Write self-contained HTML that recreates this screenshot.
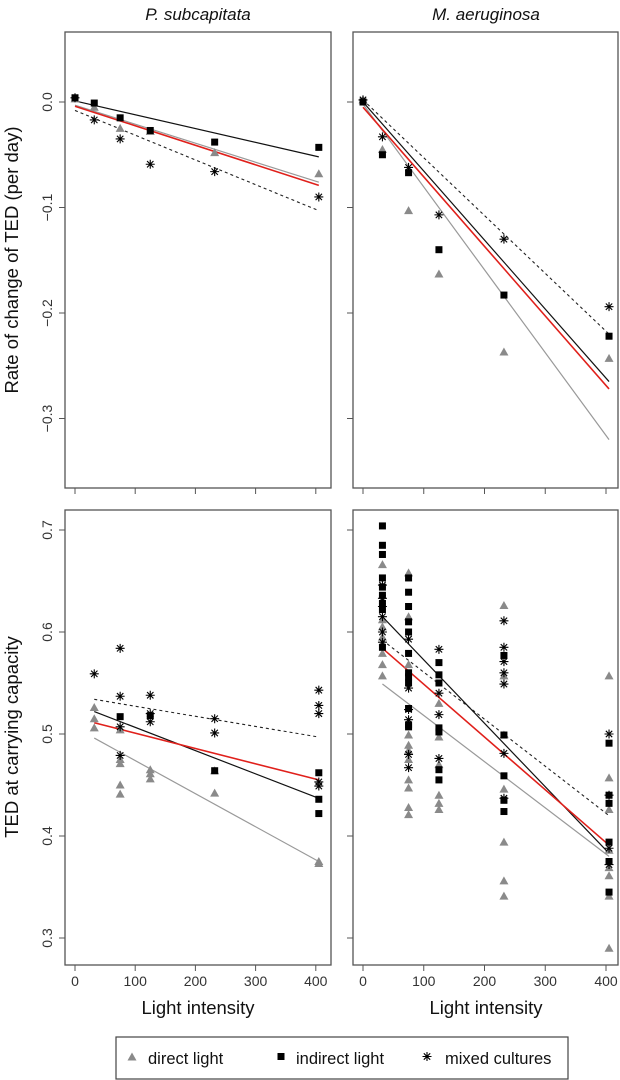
<!DOCTYPE html>
<html><head><meta charset="utf-8"><style>
body{margin:0;background:#fff}
svg{display:block;font-family:"Liberation Sans",Arial,sans-serif}
</style></head><body>
<svg id="c" width="620" height="1080" viewBox="0 0 620 1080"></svg>
<script>
// ---- data ----
const lightLevels = [0, 32, 75, 125, 232, 405];
// top-left: rate of change, P. subcapitata
const psRateDirect   = [0.003, -0.005, -0.025, -0.028, -0.048, -0.068];
const psRateIndirect = [0.004, -0.001, -0.015, -0.027, -0.038, -0.043];
const psRateMixed    = [0.004, -0.017, -0.035, -0.059, -0.066, -0.090];
// top-right: rate of change, M. aeruginosa
const maRateDirect   = [0.002, -0.045, -0.103, -0.163, -0.237, -0.243];
const maRateIndirect = [0.000, -0.050, -0.067, -0.140, -0.183, -0.222];
const maRateMixed    = [0.002, -0.033, -0.062, -0.107, -0.130, -0.194];
// fitted lines [x0,y0,x1,y1]
const psRateFits = {direct:[0,-0.003,405,-0.076], indirect:[0,0.001,405,-0.052], mixed:[0,-0.008,405,-0.103], all:[0,-0.004,405,-0.079]};
const maRateFits = {direct:[0,-0.002,405,-0.320], indirect:[0,0.000,405,-0.265], mixed:[0,0.002,405,-0.220], all:[0,-0.005,405,-0.272]};
// bottom-left: TED at K, P. subcapitata  [x, value]
const psTedDirect = [[32,0.526],[32,0.515],[32,0.506],[75,0.504],[75,0.475],[75,0.471],[75,0.450],[75,0.441],[125,0.465],[125,0.461],[125,0.456],[232,0.464],[232,0.442],[405,0.375],[405,0.373]];
const psTedIndirect = [[75,0.517],[125,0.518],[232,0.464],[405,0.462],[405,0.436],[405,0.422]];
const psTedMixed = [[32,0.559],[75,0.584],[75,0.537],[75,0.507],[75,0.479],[125,0.538],[125,0.520],[125,0.512],[232,0.515],[232,0.501],[405,0.543],[405,0.528],[405,0.520],[405,0.453],[405,0.449]];
const psTedFits = {direct:[32,0.496,405,0.375], indirect:[32,0.522,405,0.437], mixed:[32,0.534,405,0.497], all:[32,0.511,405,0.455]};
// bottom-right: TED at K, M. aeruginosa
const maTedDirect = [[32,0.666],[32,0.612],[32,0.605],[32,0.595],[32,0.579],[32,0.568],[32,0.557],[75,0.658],[75,0.615],[75,0.568],[75,0.499],[75,0.489],[75,0.484],[75,0.475],[75,0.455],[75,0.447],[75,0.428],[75,0.421],[125,0.530],[125,0.497],[125,0.470],[125,0.440],[125,0.432],[125,0.426],[232,0.626],[232,0.557],[232,0.499],[232,0.446],[232,0.394],[232,0.356],[232,0.341],[405,0.557],[405,0.457],[405,0.426],[405,0.386],[405,0.369],[405,0.361],[405,0.341],[405,0.290]];
const maTedIndirect = [[32,0.704],[32,0.685],[32,0.676],[32,0.653],[32,0.644],[32,0.636],[32,0.628],[32,0.622],[32,0.585],[75,0.653],[75,0.639],[75,0.625],[75,0.610],[75,0.600],[75,0.579],[75,0.560],[75,0.556],[75,0.550],[75,0.525],[75,0.507],[75,0.509],[125,0.570],[125,0.558],[125,0.550],[125,0.506],[125,0.502],[125,0.465],[125,0.455],[232,0.577],[232,0.499],[232,0.459],[232,0.435],[232,0.424],[405,0.491],[405,0.440],[405,0.432],[405,0.394],[405,0.375],[405,0.345]];
const maTedMixed = [[32,0.646],[32,0.633],[32,0.625],[32,0.615],[32,0.600],[32,0.590],[75,0.593],[75,0.545],[75,0.524],[75,0.514],[75,0.480],[75,0.467],[125,0.583],[125,0.540],[125,0.519],[125,0.476],[232,0.611],[232,0.585],[232,0.571],[232,0.560],[232,0.549],[232,0.481],[232,0.437],[405,0.500],[405,0.440],[405,0.388],[405,0.372]];
const maTedFits = {direct:[32,0.549,405,0.380], indirect:[32,0.615,405,0.383], mixed:[32,0.592,405,0.420], all:[32,0.584,405,0.391]};
const xTicks = [0,100,200,300,400];
const rateTicks = [0.0,-0.1,-0.2,-0.3];
const rateTickLabels = ["0.0","\u22120.1","\u22120.2","\u22120.3"];
const tedTicks = [0.3,0.4,0.5,0.6,0.7];
const tedTickLabels = ["0.3","0.4","0.5","0.6","0.7"];

// ---- drawing ----
const NS="http://www.w3.org/2000/svg";
const svg=document.getElementById('c');
function mk(tag,attrs,parent){const e=document.createElementNS(NS,tag);for(const k in attrs)e.setAttribute(k,attrs[k]);(parent||svg).appendChild(e);return e;}

const panels=[
 {id:'rate-subcapitata',L:65,R:331,T:32,B:488,x0:75,xs:0.602,y:v=>102-v*1055,ticks:rateTicks,labels:rateTickLabels,showY:true,showX:false},
 {id:'rate-aeruginosa',L:353,R:618,T:32,B:488,x0:363,xs:0.6075,y:v=>102-v*1055,ticks:rateTicks,labels:rateTickLabels,showY:false,showX:false},
 {id:'ted-subcapitata',L:65,R:331,T:510,B:965,x0:75,xs:0.602,y:v=>530+(0.7-v)*1020,ticks:tedTicks,labels:tedTickLabels,showY:true,showX:true},
 {id:'ted-aeruginosa',L:353,R:618,T:510,B:965,x0:363,xs:0.6075,y:v=>530+(0.7-v)*1020,ticks:tedTicks,labels:tedTickLabels,showY:false,showX:true}
];
function xp(p,v){return p.x0+v*p.xs;}

function tri(g,x,y){const e=mk('path',{d:`M${x},${y-4.5}L${x+4.5},${y+3.5}L${x-4.5},${y+3.5}Z`,fill:'#8a8a8a'},g);

}
function sq(g,x,y){const e=mk('rect',{x:x-3.5,y:y-3.5,width:7,height:7,fill:'#000'},g);

}
function ast(g,x,y){const r=4.5,d=3.2;const e=mk('path',{d:`M${x-r},${y}H${x+r}M${x},${y-r}V${y+r}M${x-d},${y-d}L${x+d},${y+d}M${x-d},${y+d}L${x+d},${y-d}`,stroke:'#000','stroke-width':1.1,fill:'none'},g);

}

function fitLines(p,g,f){
 const st={direct:{stroke:'#999','stroke-width':1.2},indirect:{stroke:'#111','stroke-width':1.2},mixed:{stroke:'#222','stroke-width':1.1,'stroke-dasharray':'3,3'},all:{stroke:'#e0201b','stroke-width':1.6}};
 for(const k of ['direct','mixed','indirect','all']){const a=f[k];
  const e=mk('line',Object.assign({x1:xp(p,a[0]),y1:p.y(a[1]),x2:xp(p,a[2]),y2:p.y(a[3])},st[k]),g);
  
  }
}

panels.forEach((p,i)=>{
 const g=mk('g',{});
 
 
 const fr=mk('rect',{x:p.L,y:p.T,width:p.R-p.L,height:p.B-p.T,fill:'none',stroke:'#555','stroke-width':1.3},g);
 
 
 p.ticks.forEach((t,j)=>{const y=p.y(t);
  mk('line',{x1:p.L-6,y1:y,x2:p.L,y2:y,stroke:'#555','stroke-width':1},g);
  if(p.showY){const tx=mk('text',{x:52,y:y,transform:`rotate(-90 52 ${y})`,'text-anchor':'middle','font-size':14,fill:'#333'},g);
   tx.textContent=p.labels[j];
   
   }
 });
 xTicks.forEach(t=>{const x=xp(p,t);
  mk('line',{x1:x,y1:p.B,x2:x,y2:p.B+6,stroke:'#555','stroke-width':1},g);
  if(p.showX){const tx=mk('text',{x:x,y:986,'text-anchor':'middle','font-size':14,fill:'#333'},g);
   tx.textContent=String(t);
   
   }
 });
});

function drawSeries(p,d,idr,mx,f,isPairs){
 const g=mk('g',{});
 
 
 fitLines(p,g,f);
 if(isPairs){d.forEach(a=>tri(g,xp(p,a[0]),p.y(a[1])));idr.forEach(a=>sq(g,xp(p,a[0]),p.y(a[1])));mx.forEach(a=>ast(g,xp(p,a[0]),p.y(a[1])));}
 else{lightLevels.forEach((l,k)=>{tri(g,xp(p,l),p.y(d[k]));});lightLevels.forEach((l,k)=>{sq(g,xp(p,l),p.y(idr[k]));});lightLevels.forEach((l,k)=>{ast(g,xp(p,l),p.y(mx[k]));});}
}
drawSeries(panels[0],psRateDirect,psRateIndirect,psRateMixed,psRateFits,false);
drawSeries(panels[1],maRateDirect,maRateIndirect,maRateMixed,maRateFits,false);
drawSeries(panels[2],psTedDirect,psTedIndirect,psTedMixed,psTedFits,true);
drawSeries(panels[3],maTedDirect,maTedIndirect,maTedMixed,maTedFits,true);
</script>
<svg width="620" height="1080" style="position:absolute;left:0;top:0">
 <g font-family="Liberation Sans, Arial, sans-serif" fill="#111">
  <text x="198" y="20" font-size="17" font-style="italic" text-anchor="middle">P. subcapitata</text>
  <text x="486" y="20" font-size="17" font-style="italic" text-anchor="middle">M. aeruginosa</text>
  <text x="18" y="260" font-size="18.5" text-anchor="middle" transform="rotate(-90 18 260)">Rate of change of TED (per day)</text>
  <text x="18" y="737" font-size="18.5" text-anchor="middle" transform="rotate(-90 18 737)">TED at carrying capacity</text>
  <text x="198" y="1014" font-size="18.5" text-anchor="middle">Light intensity</text>
  <text x="486" y="1014" font-size="18.5" text-anchor="middle">Light intensity</text>
 </g>
 <g>
  <rect x="116" y="1037" width="452" height="42" fill="#fff" stroke="#444" stroke-width="1.2"/>
  <path d="M132,1052.5L136.5,1060.5L127.5,1060.5Z" fill="#8a8a8a"/>
  <text x="148" y="1064" font-size="16.5" font-family="Liberation Sans, Arial, sans-serif" fill="#111">direct light</text>
  <rect x="277.5" y="1053" width="7" height="7" fill="#000"/>
  <text x="296" y="1064" font-size="16.5" font-family="Liberation Sans, Arial, sans-serif" fill="#111">indirect light</text>
  <path d="M422.5,1056.5H431.5M427,1052V1061M423.8,1053.3L430.2,1059.7M423.8,1059.7L430.2,1053.3" stroke="#000" stroke-width="1.1"/>
  <text x="445" y="1064" font-size="16.5" font-family="Liberation Sans, Arial, sans-serif" fill="#111">mixed cultures</text>
 </g>
</svg>
</body></html>
